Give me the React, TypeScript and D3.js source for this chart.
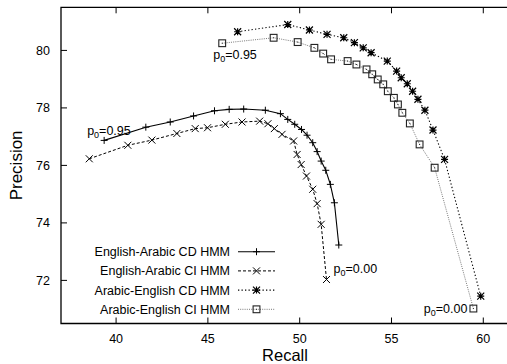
import * as d3 from "d3";

const xTicks = [40, 45, 50, 55, 60];
const yTicks = [72, 74, 76, 78, 80];

const enCdX = [39.35, 41.62, 42.95, 44.22, 45.36, 46.16, 46.95, 48.13, 48.95, 49.35, 49.73, 50.1, 50.4, 50.71, 50.95, 51.17, 51.42, 51.67, 51.89, 52.13];
const enCdY = [76.87, 77.33, 77.51, 77.72, 77.9, 77.95, 77.96, 77.92, 77.8, 77.6, 77.43, 77.25, 77.05, 76.79, 76.48, 76.15, 75.83, 75.34, 74.7, 73.23];

const enCiX = [38.54, 40.64, 41.95, 43.31, 44.31, 44.98, 45.95, 46.86, 47.82, 48.27, 48.62, 49.04, 49.67, 49.86, 50.08, 50.37, 50.71, 50.95, 51.17, 51.46];
const enCiY = [76.23, 76.7, 76.88, 77.11, 77.28, 77.31, 77.43, 77.51, 77.54, 77.45, 77.28, 77.08, 76.85, 76.38, 76.03, 75.63, 75.17, 74.67, 73.95, 72.03];

const arCdX = [46.62, 49.35, 50.53, 51.49, 52.4, 52.98, 53.46, 53.89, 54.77, 55.28, 55.53, 55.86, 56.15, 56.44, 56.82, 57.26, 57.89, 59.86];
const arCdY = [80.65, 80.9, 80.71, 80.56, 80.44, 80.27, 80.09, 79.92, 79.63, 79.28, 79.05, 78.84, 78.58, 78.3, 77.92, 77.23, 76.21, 71.45];

const arCiX = [45.78, 48.58, 49.89, 50.8, 51.28, 51.71, 52.61, 53.09, 53.64, 53.95, 54.25, 54.55, 54.8, 55.13, 55.35, 55.59, 56.0, 56.53, 57.35, 59.46];
const arCiY = [80.25, 80.44, 80.29, 80.09, 79.89, 79.69, 79.63, 79.51, 79.34, 79.17, 78.99, 78.82, 78.58, 78.35, 78.12, 77.83, 77.46, 76.73, 75.92, 71.02];

const seriesNames = [
  "English-Arabic CD HMM",
  "English-Arabic CI HMM",
  "Arabic-English CD HMM",
  "Arabic-English CI HMM",
];

const W = 507;
const H = 364;
const font = "'Liberation Sans', Arial, Helvetica, sans-serif";

type Pt = [number, number];
const zip = (xs: number[], ys: number[]): Pt[] => xs.map((x, i) => [x, ys[i]]);

function Marker({ kind, x, y, color }: { kind: string; x: number; y: number; color: string }) {
  const s = 3.5;
  if (kind === "plus")
    return <path d={`M${x - s},${y}H${x + s}M${x},${y - s}V${y + s}`} stroke={color} strokeWidth={1} fill="none" />;
  if (kind === "cross")
    return <path d={`M${x - s},${y - s}L${x + s},${y + s}M${x - s},${y + s}L${x + s},${y - s}`} stroke={color} strokeWidth={1} fill="none" />;
  if (kind === "star")
    return (
      <path
        d={`M${x - s},${y}H${x + s}M${x},${y - s}V${y + s}M${x - s},${y - s}L${x + s},${y + s}M${x - s},${y + s}L${x + s},${y - s}`}
        stroke={color}
        strokeWidth={1.2}
        fill="none"
      />
    );
  return (
    <g>
      <rect x={x - 3.4} y={y - 3.4} width={6.8} height={6.8} fill="none" stroke={color} strokeWidth={1.1} />
      <rect x={x - 0.5} y={y - 0.5} width={1} height={1} fill={color} />
    </g>
  );
}

function PLabel({ x, y, v, anchor = "start" }: { x: number; y: number; v: string; anchor?: string }) {
  return (
    <text x={x} y={y} textAnchor={anchor} fontSize={12.5} fontFamily={font} fill="#000">
      p
      <tspan fontSize={9} dy={3}>0</tspan>
      <tspan dy={-3}>={v}</tspan>
    </text>
  );
}

export default function App() {
  const left = 61;
  const top = 7.3;
  const bottom = 323.5;
  const right = 509;

  const x = d3.scaleLinear().domain([37, 61.4]).range([left, right]);
  const y = d3.scaleLinear().domain([70.5, 81.5]).range([bottom, top]);

  const line = d3
    .line<Pt>()
    .x((d) => x(d[0]))
    .y((d) => y(d[1]));

  const series = [
    { name: seriesNames[0], pts: zip(enCdX, enCdY), kind: "plus", color: "#000", mcolor: "#000", dash: "none", lw: 1.1 },
    { name: seriesNames[1], pts: zip(enCiX, enCiY), kind: "cross", color: "#000", mcolor: "#000", dash: "3,2", lw: 1 },
    { name: seriesNames[2], pts: zip(arCdX, arCdY), kind: "star", color: "#000", mcolor: "#000", dash: "1.3,2.2", lw: 1.1 },
    { name: seriesNames[3], pts: zip(arCiX, arCiY), kind: "square", color: "#777", mcolor: "#222", dash: "1,1.2", lw: 1 },
  ];

  const enFirst = series[0].pts[0];
  const enCiLast = series[1].pts[series[1].pts.length - 1];
  const arCiFirst = series[3].pts[0];
  const arCiLast = series[3].pts[series[3].pts.length - 1];

  const legX = 230;
  const legY0 = 251.7;
  const legDy = 19.2;

  return (
    <svg width={W} height={H} style={{ position: "absolute", left: 0, top: 0, background: "#fff" }}>
      <rect width={W} height={H} fill="#fff" />

      {/* frame */}
      <g stroke="#000" strokeWidth={1.3} fill="none">
        <path d={`M${right},${top}H${left}V${bottom}H${right}`} />
      </g>

      {/* x ticks */}
      {xTicks.map((t) => (
        <g key={"x" + t}>
          <line x1={x(t)} x2={x(t)} y1={bottom} y2={bottom - 6} stroke="#000" strokeWidth={1} />
          <line x1={x(t)} x2={x(t)} y1={top} y2={top + 6} stroke="#000" strokeWidth={1} />
          <text x={x(t)} y={343} textAnchor="middle" fontSize={12.5} fontFamily={font}>
            {t}
          </text>
        </g>
      ))}

      {/* y ticks */}
      {yTicks.map((t) => (
        <g key={"y" + t}>
          <line x1={left} x2={left + 6} y1={y(t)} y2={y(t)} stroke="#000" strokeWidth={1} />
          <text x={50} y={y(t) + 4.5} textAnchor="end" fontSize={12.5} fontFamily={font}>
            {t}
          </text>
        </g>
      ))}

      <text x={(left + right) / 2} y={361} textAnchor="middle" fontSize={16.5} fontFamily={font}>
        Recall
      </text>
      <text
        transform={`translate(22,${(top + bottom) / 2}) rotate(-90)`}
        textAnchor="middle"
        fontSize={17}
        fontFamily={font}
      >
        Precision
      </text>

      {/* series */}
      {series.map((s) => (
        <g key={s.name}>
          <path d={line(s.pts) ?? ""} fill="none" stroke={s.color} strokeWidth={s.lw} strokeDasharray={s.dash} />
          {s.pts.map((p, i) => (
            <Marker key={i} kind={s.kind} x={x(p[0])} y={y(p[1])} color={s.mcolor} />
          ))}
        </g>
      ))}

      {/* annotations */}
      <PLabel x={x(enFirst[0]) - 17} y={y(enFirst[1]) - 5} v="0.95" />
      <PLabel x={x(arCiFirst[0]) - 9} y={y(arCiFirst[1]) + 15.5} v="0.95" />
      <PLabel x={x(enCiLast[0]) + 7} y={y(enCiLast[1]) - 7} v="0.00" />
      <PLabel x={x(arCiLast[0]) - 6} y={y(arCiLast[1]) + 4} v="0.00" anchor="end" />

      {/* legend */}
      {series.map((s, i) => {
        const cy = legY0 + i * legDy;
        return (
          <g key={"leg" + i}>
            <text x={legX} y={cy + 4.5} textAnchor="end" fontSize={12.5} fontFamily={font}>
              {s.name}
            </text>
            <line x1={238} x2={275} y1={cy} y2={cy} stroke={s.color} strokeWidth={s.lw} strokeDasharray={s.dash} />
            <Marker kind={s.kind} x={256.5} y={cy} color={s.mcolor} />
          </g>
        );
      })}
    </svg>
  );
}
